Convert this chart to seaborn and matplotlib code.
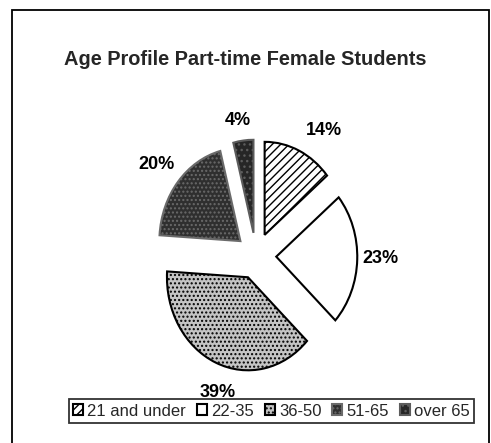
"""Age profile of part-time female students - exploded pie."""

import numpy as np
import matplotlib.pyplot as plt
import seaborn as sns
from matplotlib.patches import Rectangle

age_groups = ["21 and under", "22-35", "36-50", "51-65", "over 65"]
shares = [14, 23, 39, 20, 4]

face_colors = ["white", "white", "#c4c4c4", "#2f2f2f", "#262626"]
edge_colors = ["black", "black", "black", "#6a6a6a", "#5c5c5c"]
hatches = ["////", None, "....", "....", "..."]

# label placement tweaks (degrees clockwise off the slice middle, distance in radii)
label_turn = [6.6, -0.8, -5.7, -1.2, -1.4]
label_dist = [1.58, 1.54, 1.54, 1.575, 1.47]

sns.set_theme(style="white")
plt.rcParams["font.family"] = ["Liberation Sans", "DejaVu Sans"]

fig = plt.figure(figsize=(4.91, 4.43), dpi=100)
fig.patch.set_facecolor("white")

# outer chart frame (bottom edge is cut off in the scan)
fig.patches.append(
    Rectangle((0.024, -0.05), 0.972, 1.027, transform=fig.transFigure,
              fill=False, edgecolor="black", linewidth=1.3)
)

ax = fig.add_axes([0.1914, 0.0023, 0.66, 0.84])
wedges, texts, autotexts = ax.pie(
    shares,
    startangle=90,
    counterclock=False,
    explode=[0.25] * len(shares),
    autopct="%1.0f%%",
    pctdistance=1.28,
    wedgeprops={"linewidth": 1.5},
    textprops={"fontsize": 13, "color": "black", "fontweight": "bold"},
)
for w, fc, ec, h in zip(wedges, face_colors, edge_colors, hatches):
    w.set_facecolor(fc)
    w.set_edgecolor(ec)
    if h:
        w.set_hatch(h)

for w, t, turn, dist in zip(wedges, autotexts, label_turn, label_dist):
    mid = np.deg2rad((w.theta1 + w.theta2) / 2 - turn)
    t.set_position((dist * np.cos(mid), dist * np.sin(mid)))
    t.set_ha("center")
    t.set_va("center")

ax.set_aspect("auto")
ax.set_xlim(-2, 2)
ax.set_ylim(-2, 2)
ax.axis("off")

fig.text(0.5, 0.866, "Age Profile Part-time Female Students",
         ha="center", va="center", fontsize=14.4, fontweight="bold")

leg = fig.legend(
    wedges, age_groups,
    loc="center", bbox_to_anchor=(0.553, 0.072),
    ncol=5, fontsize=12, frameon=True, fancybox=False,
    edgecolor="black", handlelength=0.6, handleheight=0.6,
    handletextpad=0.25, columnspacing=0.65, borderpad=0.25,
    borderaxespad=0,
)
leg.get_frame().set_linewidth(1.3)

fig.savefig("out.png", dpi=100, facecolor="white")
